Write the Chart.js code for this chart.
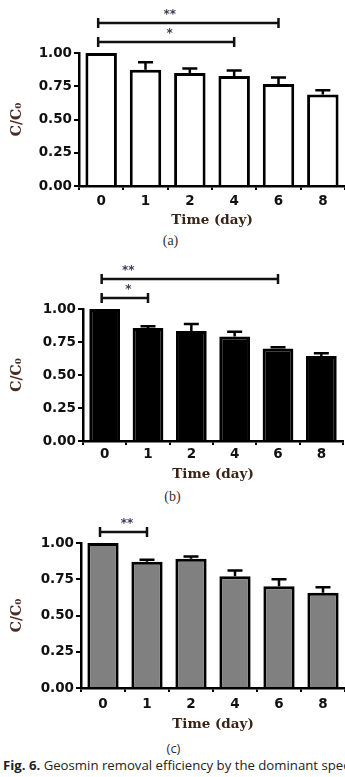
<!DOCTYPE html>
<html><head><meta charset="utf-8">
<script src="https://cdn.jsdelivr.net/npm/chart.js@4/dist/chart.umd.min.js"></script>
<style>
html,body{margin:0;padding:0;background:#fff;width:345px;height:777px;overflow:hidden;position:relative}
.panel{position:absolute;left:0;width:345px}
.cap{position:absolute;left:0;width:345px;text-align:center;color:#333;line-height:16px;height:16px}
.fig{position:absolute;left:3px;top:756px;white-space:nowrap;font-family:'Open Sans',sans-serif;font-size:13.2px;color:#222;line-height:18px}
</style></head><body>
<div class="panel" style="top:0px;height:232px"><canvas id="ca" width="345" height="232"></canvas></div>
<div class="cap" style="top:233px;left:-2px;font-family:'Liberation Serif',serif;font-size:14px">(a)</div>
<div class="panel" style="top:250px;height:236px"><canvas id="cb" width="345" height="236"></canvas></div>
<div class="cap" style="top:489px;left:0px;font-family:'Liberation Serif',serif;font-size:14px">(b)</div>
<div class="panel" style="top:500px;height:236px"><canvas id="cc" width="345" height="236"></canvas></div>
<div class="cap" style="top:740px;left:1px;font-family:'Open Sans',sans-serif;font-size:13px">(c)</div>
<div class="fig"><b>Fig. 6.</b> Geosmin removal efficiency by the dominant species</div>
<script>
// ---- data ----
const days = ['0', '1', '2', '4', '6', '8'];
const yTickValues = [0, 0.25, 0.5, 0.75, 1.0];
const yTickLabels = ['0.00', '0.25', '0.50', '0.75', '1.00'];
const xTitle = 'Time (day)';
const yTitle = 'C/C\u2080';

const meanA = [1.00, 0.875, 0.850, 0.827, 0.767, 0.688];
const sdA   = [0.00, 0.055, 0.033, 0.041, 0.048, 0.032];
const bracketsA = [['0', '4', '*'], ['0', '6', '**']];

const meanB = [1.00, 0.857, 0.833, 0.792, 0.700, 0.643];
const sdB   = [0.00, 0.012, 0.053, 0.036, 0.010, 0.021];
const bracketsB = [['0', '1', '*'], ['0', '6', '**']];

const meanC = [1.00, 0.870, 0.891, 0.771, 0.701, 0.657];
const sdC   = [0.00, 0.014, 0.016, 0.039, 0.049, 0.037];
const bracketsC = [['0', '1', '**']];

// ---- plugins ----
const errorBars = {
  id: 'errorBars',
  afterDatasetsDraw(chart, args, opts) {
    const ctx = chart.ctx, y = chart.scales.y;
    const meta = chart.getDatasetMeta(0);
    const means = chart.data.datasets[0].data;
    const sds = opts.sd || [];
    ctx.save();
    ctx.strokeStyle = '#000';
    ctx.lineWidth = 2.5;
    meta.data.forEach((el, i) => {
      const sd = sds[i] || 0;
      if (!sd) return;
      const top = y.getPixelForValue(means[i] + sd);
      ctx.beginPath();
      ctx.moveTo(el.x, el.y);
      ctx.lineTo(el.x, top);
      ctx.moveTo(el.x - 7.5, top);
      ctx.lineTo(el.x + 7.5, top);
      ctx.stroke();
    });
    ctx.restore();
  }
};
const sigBrackets = {
  id: 'sigBrackets',
  afterDraw(chart, args, opts) {
    const list = (opts.items || []).slice();
    if (!list.length) return;
    const ctx = chart.ctx, x = chart.scales.x, area = chart.chartArea;
    const idx = l => chart.data.labels.indexOf(l);
    list.sort((a, b) => (idx(a[1]) - idx(a[0])) - (idx(b[1]) - idx(b[0])));
    const first = list[0];
    const labelX = (x.getPixelForValue(idx(first[0])) + x.getPixelForValue(idx(first[1]))) / 2;
    ctx.save();
    list.forEach((b, lvl) => {
      const x1 = x.getPixelForValue(idx(b[0])) - 3;
      const x2 = x.getPixelForValue(idx(b[1]));
      const yy = area.top - 11 - lvl * 19;
      ctx.strokeStyle = '#111';
      ctx.lineWidth = 2.5;
      ctx.beginPath();
      ctx.moveTo(x1, yy); ctx.lineTo(x2, yy);
      ctx.moveTo(x1, yy - 5); ctx.lineTo(x1, yy + 5);
      ctx.moveTo(x2, yy - 5); ctx.lineTo(x2, yy + 5);
      ctx.stroke();
      ctx.fillStyle = '#3c3c55';
      ctx.font = 'bold 12px "DejaVu Sans"';
      ctx.textAlign = 'center';
      ctx.textBaseline = 'middle';
      ctx.fillText(b[2], labelX + 2, yy - 8);
    });
    ctx.restore();
  }
};

function makeChart(id, means, sds, brackets, fill, g) {
  return new Chart(document.getElementById(id), {
    type: 'bar',
    data: {
      labels: days,
      datasets: [{
        data: means,
        backgroundColor: fill,
        borderColor: '#000',
        borderWidth: 3,
        borderSkipped: 'start',
        barPercentage: 0.71,
        categoryPercentage: 1.0
      }]
    },
    plugins: [errorBars, sigBrackets],
    options: {
      responsive: false,
      animation: false,
      devicePixelRatio: 1,
      layout: { padding: { top: g.top, right: g.right, bottom: 0, left: 0 } },
      plugins: {
        legend: { display: false },
        tooltip: { enabled: false },
        errorBars: { sd: sds },
        sigBrackets: { items: brackets }
      },
      scales: {
        x: {
          offset: true,
          grid: { drawOnChartArea: false, drawTicks: true, tickLength: 4, color: '#000', lineWidth: 2 },
          border: { display: true, color: '#000', width: 2.5 },
          ticks: { font: { family: 'DejaVu Sans', weight: 'bold', size: 13.5 }, color: '#111', padding: g.xpad },
          title: { display: true, text: xTitle, font: { family: 'DejaVu Serif', weight: 'bold', size: 13.5 }, color: '#3a2418', padding: { top: 0, bottom: 3 } },
          afterFit(s) { s.height = g.xh; }
        },
        y: {
          min: 0, max: 1,
          afterBuildTicks(s) { s.ticks = yTickValues.map(v => ({ value: v })); },
          grid: { drawOnChartArea: false, drawTicks: true, tickLength: 5, color: '#000', lineWidth: 2 },
          border: { display: true, color: '#000', width: 2.5 },
          ticks: {
            font: { family: 'DejaVu Sans', weight: 'bold', size: 13.5 }, color: '#111', padding: 2,
            callback: (v) => yTickLabels[yTickValues.indexOf(v)]
          },
          title: { display: true, text: yTitle, font: { family: 'DejaVu Serif', weight: 'bold', size: 14 }, color: '#4a2c22', padding: { top: 9, bottom: 0 } },
          afterFit(s) { s.width = g.left; }
        }
      }
    }
  });
}

makeChart('ca', meanA, sdA, bracketsA, '#ffffff', { top: 53, right: 0, left: 79, xh: 46, xpad: 3 });
makeChart('cb', meanB, sdB, bracketsB, '#000000', { top: 59, right: 2, left: 83, xh: 45, xpad: 1 });
makeChart('cc', meanC, sdC, bracketsC, '#808080', { top: 43, right: 0, left: 81, xh: 48, xpad: 4 });
</script>
</body></html>
